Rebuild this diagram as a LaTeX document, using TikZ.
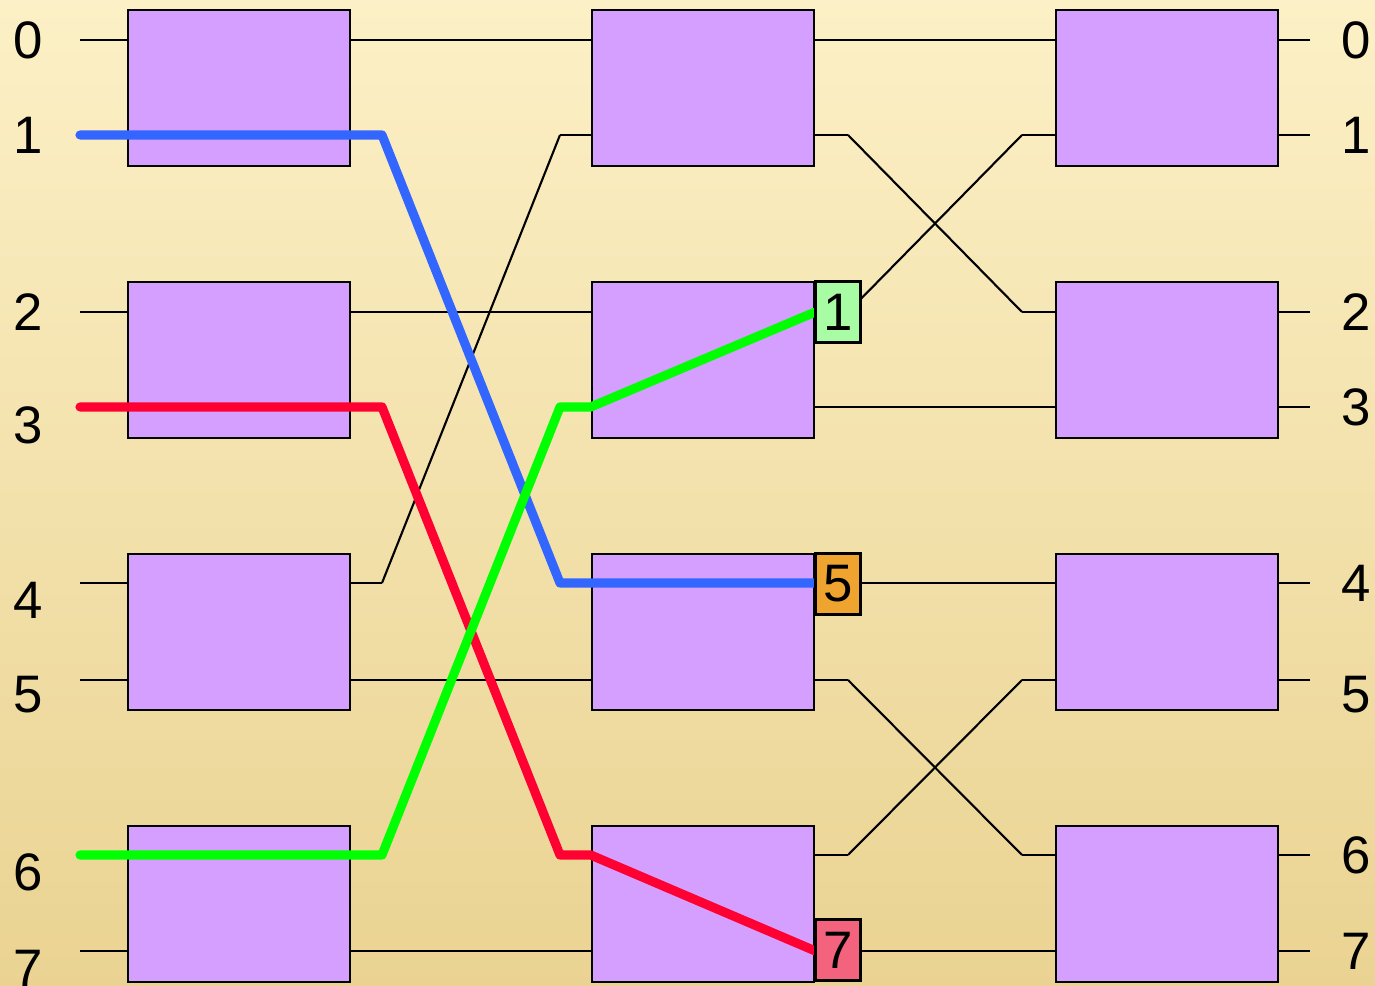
\documentclass[tikz,border=0pt]{standalone}
\usepackage{fontspec}
\setmainfont{Liberation Sans}
\usepackage{xcolor}
\usetikzlibrary{positioning,calc}

\definecolor{bgtop}{RGB}{252,240,198}
\definecolor{bgbot}{RGB}{234,211,146}
\definecolor{swpurple}{RGB}{213,159,255}
\definecolor{taggreen}{RGB}{168,252,164}
\definecolor{tagorange}{RGB}{240,164,48}
\definecolor{tagred}{RGB}{244,99,126}
\definecolor{pathblue}{RGB}{51,102,255}
\definecolor{pathred}{RGB}{255,0,51}
\definecolor{pathgreen}{RGB}{0,255,0}

\begin{document}
\begin{tikzpicture}[
    x=0.01cm, y=-0.01cm,
    sw/.style={rectangle, draw, line width=0.7pt, fill=swpurple, minimum width=2.22cm, minimum height=1.56cm, inner sep=0pt},
    wire/.style={line width=0.6pt},
    route/.style={line width=2.6pt, line cap=round, line join=round},
    tag/.style={rectangle, draw, line width=0.7pt, minimum width=0.45cm, minimum height=0.61cm, inner sep=0pt, font=\fontsize{15}{15}\selectfont},
    num/.style={font=\fontsize{15}{15}\selectfont}
]
    % Background
    \useasboundingbox (0,0) rectangle (1375,986);
    \shade[top color=bgtop, bottom color=bgbot] (0,0) rectangle (1375,986);

    % Switch boxes (three stages, four per stage)
    \foreach \c/\x in {1/239,2/703,3/1167}
      \foreach \r/\y in {0/88,1/360,2/632,3/904}
        \node[sw] (s\c-\r) at (\x,\y) {};

    % Port ends of every line
    \foreach \i/\y in {0/40,1/135,2/312,3/407,4/583,5/680,6/855,7/951} {
      \coordinate (L1-\i) at (80,\y);
      \coordinate (R1-\i) at (382,\y);
      \coordinate (L2-\i) at (560,\y);
      \coordinate (R2-\i) at (848,\y);
      \coordinate (L3-\i) at (1022,\y);
      \coordinate (R3-\i) at (1310,\y);
    }

    % Stubs into the boxes
    \foreach \c in {1,2,3}
      \foreach \i in {0,...,7} {
        \pgfmathtruncatemacro{\r}{\i/2}
        \draw[wire] (L\c-\i) -- (L\c-\i -| s\c-\r.west);
        \draw[wire] (R\c-\i) -- (R\c-\i -| s\c-\r.east);
      }

    % Stage 1 to stage 2
    \foreach \a/\b in {0/0,1/4,2/2,3/6,4/1,5/5,6/3,7/7}
      \draw[wire] (R1-\a) -- (L2-\b);

    % Stage 2 to stage 3
    \foreach \a/\b in {0/0,1/2,2/1,3/3,4/4,5/6,6/5,7/7}
      \draw[wire] (R2-\a) -- (L3-\b);

    % Line numbers
    \foreach \i/\y in {0/40,1/135,2/312,3/425,4/600,5/695,6/872,7/968}
      \node[num] (in\i) at (28,\y) {\i};
    \foreach \i/\y in {0/40,1/135,2/312,3/407,4/583,5/695,6/855,7/951}
      \node[num] (out\i) at (1356,\y) {\i};

    % Routed paths
    \draw[route, pathblue] (L1-1) -- (R1-1) -- (L2-4) -- (L2-4 -| s2-2.east);
    \draw[route, pathred] (L1-3) -- (R1-3) -- (L2-6) -- (L2-6 -| s2-3.west) -- (L2-7 -| s2-3.east);
    \draw[route, pathgreen] (L1-6) -- (R1-6) -- (L2-3) -- (L2-3 -| s2-1.west) -- (L2-2 -| s2-1.east);

    % Tags at the outputs of stage 2
    \node[tag, fill=taggreen] (t1) at (838,312) {1};
    \node[tag, fill=tagorange] (t5) at (838,584) {5};
    \node[tag, fill=tagred] (t7) at (838,950) {7};
\end{tikzpicture}
\end{document}
